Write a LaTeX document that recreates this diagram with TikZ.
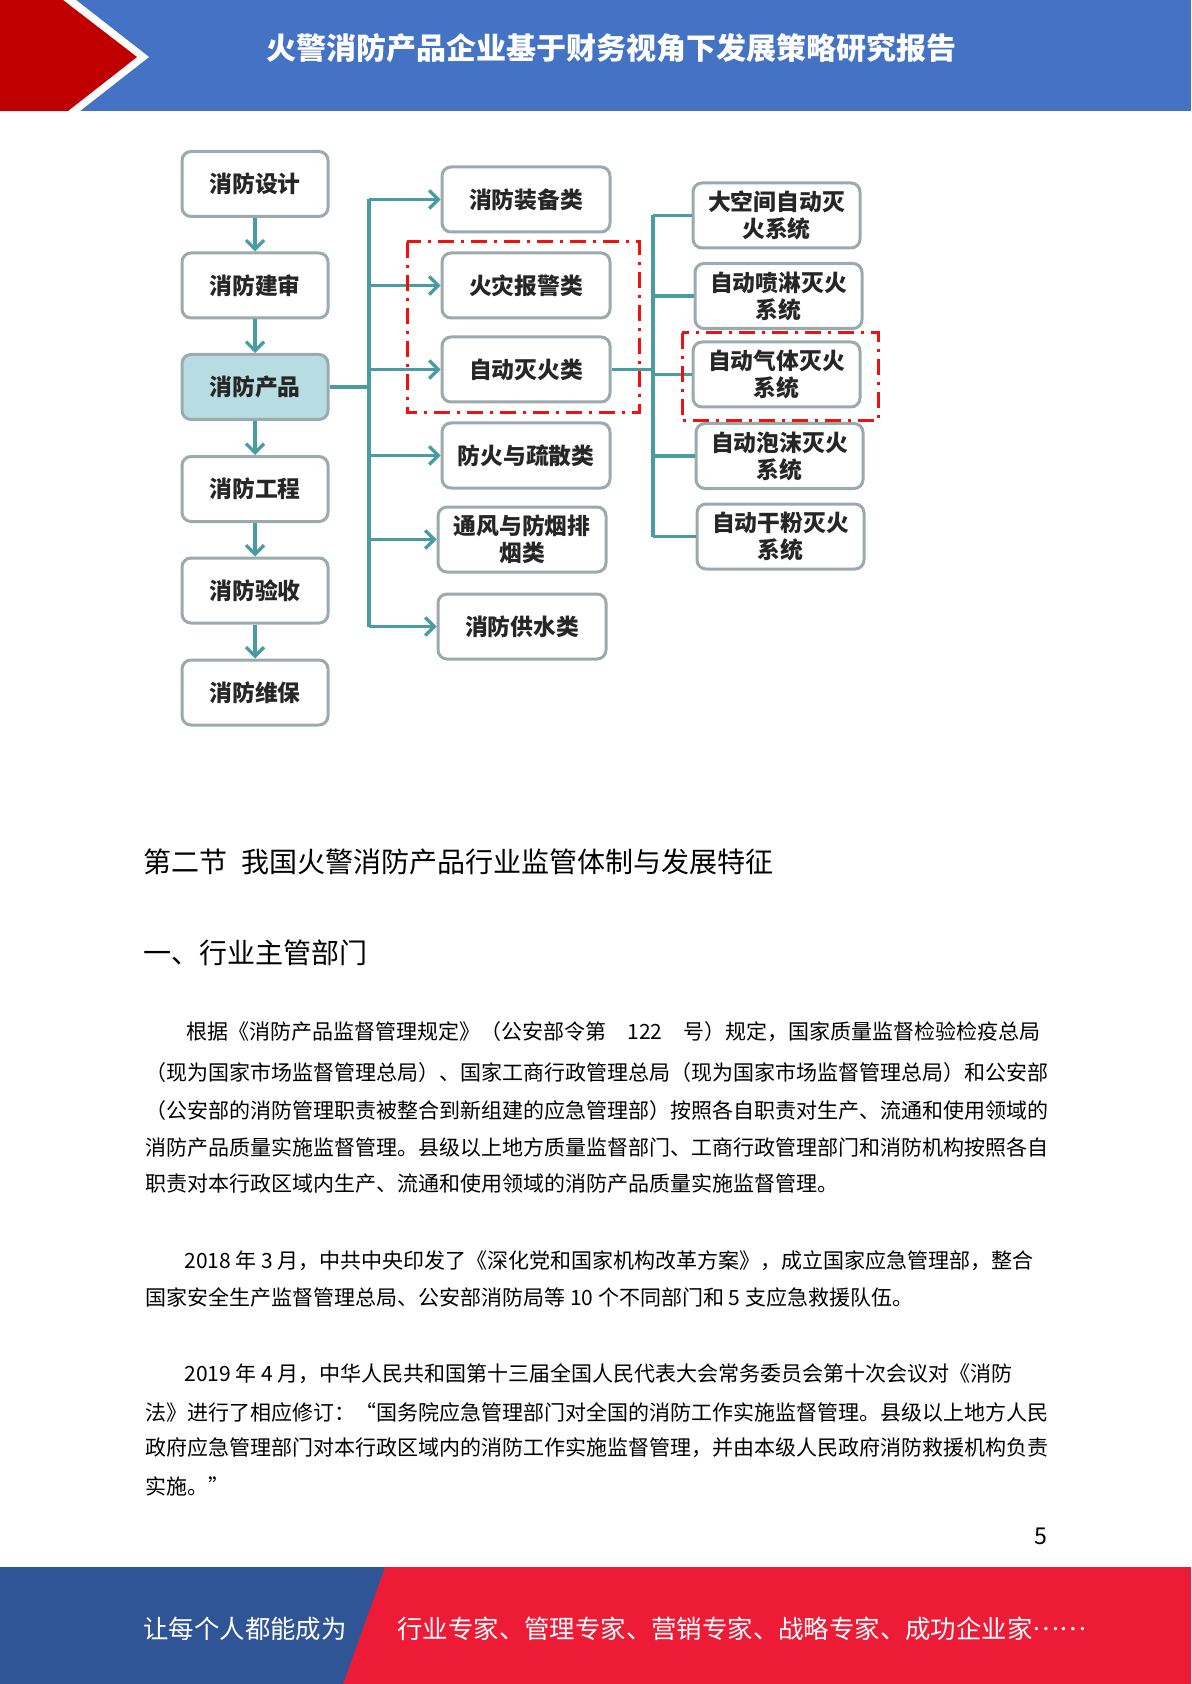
\documentclass[tikz,border=0pt]{standalone}
\usepackage{fontspec}
\setmainfont{Noto Sans CJK SC}
\usetikzlibrary{arrows.meta,positioning,calc}
\definecolor{hdrblue}{HTML}{4472C4}
\definecolor{hdrred}{HTML}{C00000}
\definecolor{ftblue}{HTML}{2F5597}
\definecolor{ftred}{HTML}{EE1B36}
\definecolor{flowteal}{HTML}{4A9CA3}
\definecolor{boxgray}{HTML}{9AAAAD}
\definecolor{prodfill}{HTML}{B7DDE2}
\definecolor{dashred}{HTML}{F01010}

\begin{document}
\begin{tikzpicture}[x=0.5pt, y=-0.5pt,
    box/.style={draw=boxgray, line width=1.5pt, rounded corners=4.5pt, fill=white, minimum width=73pt, minimum height=32.5pt, align=center, inner sep=2pt, font=\fontsize{11.4pt}{13.5pt}\selectfont\bfseries, text=black!85},
    midbox/.style={box, minimum width=84pt},
    sysbox/.style={box, minimum width=83.5pt},
    arr/.style={draw=flowteal, line width=1.6pt, -{Straight Barb[length=4.5pt, width=9pt]}},
    link/.style={draw=flowteal, line width=1.6pt},
    hl/.style={draw=dashred, line width=1.5pt, dash pattern=on 8pt off 3.5pt on 1.5pt off 3.5pt},
    txt/.style={anchor=west, inner sep=0pt, font=\fontsize{10.5pt}{12pt}\selectfont},
    hd/.style={anchor=west, inner sep=0pt, font=\fontsize{14pt}{16pt}\selectfont},
    foot/.style={anchor=west, inner sep=0pt, text=white, font=\fontsize{12.7pt}{14pt}\selectfont}
]
\useasboundingbox (0,0) rectangle (1191,1684);

% header band
\fill[hdrblue] (0,0) rectangle (1191,111);
\fill[white] (0,0) -- (76,0) -- (149,57) -- (80,111) -- (0,111) -- cycle;
\fill[hdrred] (0,0) -- (63,0) -- (137,57) -- (68,111) -- (0,111) -- cycle;
\node[text=white, font=\fontsize{15pt}{18pt}\selectfont\bfseries] (title) at (611,48) {火警消防产品企业基于财务视角下发展策略研究报告};

% left chain
\node[box] (design) at (255,184) {消防设计};
\node[box] (review) at (255,285.5) {消防建审};
\node[box, fill=prodfill] (product) at (255,387) {消防产品};
\node[box] (project) at (255,489) {消防工程};
\node[box] (accept) at (255,590.5) {消防验收};
\node[box] (maint) at (255,692.5) {消防维保};

\draw[arr] (design) -- (review);
\draw[arr] (review) -- (product);
\draw[arr] (product) -- (project);
\draw[arr] (project) -- (accept);
\draw[arr] (accept) -- (maint);

% product classes
\node[midbox] (equip) at (526,199.5) {消防装备类};
\node[midbox] (alarm) at (526,285.5) {火灾报警类};
\node[midbox] (extin) at (526,369.5) {自动灭火类};
\node[midbox] (evac) at (526,455.5) {防火与疏散类};
\node[midbox] (smoke) at (522,539.5) {通风与防烟排\\烟类};
\node[midbox] (water) at (522,626.5) {消防供水类};

\coordinate (trunkA) at (369,387);
\draw[link] (product.east) -- (trunkA);
\draw[link] (trunkA |- equip.west) -- (trunkA |- water.west);
\foreach \n in {equip,alarm,extin,evac,smoke,water}
  \draw[arr] (trunkA |- \n.west) -- (\n.west);

% extinguishing systems
\node[sysbox] (sysA) at (776.5,215.5) {大空间自动灭\\火系统};
\node[sysbox] (sysB) at (778.5,296) {自动喷淋灭火\\系统};
\node[sysbox] (sysC) at (776.5,374.5) {自动气体灭火\\系统};
\node[sysbox] (sysD) at (779.5,456) {自动泡沫灭火\\系统};
\node[sysbox] (sysE) at (780.5,536.5) {自动干粉灭火\\系统};

\coordinate (trunkB) at (653,369.5);
\draw[link] (extin.east) -- (trunkB);
\draw[link] (trunkB |- sysA.west) -- (trunkB |- sysE.west);
\foreach \n in {sysA,sysB,sysC,sysD,sysE}
  \draw[link] (trunkB |- \n.west) -- (\n.west);

% highlighted groups
\draw[hl] (407,242) rectangle (639,413);
\draw[hl] (682,333) rectangle (878,421);

% section text
\node[hd] (sec) at (143,862) {第二节\hspace{0.5em}我国火警消防产品行业监管体制与发展特征};
\node[hd] (sub) at (143,953) {一、行业主管部门};

\node[txt] (pa1) at (186,1032) {根据《消防产品监督管理规定》（公安部令第\hspace{1em}122\hspace{1em}号）规定，国家质量监督检验检疫总局};
\node[txt] (pa2) at (145,1073) {（现为国家市场监督管理总局）、国家工商行政管理总局（现为国家市场监督管理总局）和公安部};
\node[txt] (pa3) at (145,1111) {（公安部的消防管理职责被整合到新组建的应急管理部）按照各自职责对生产、流通和使用领域的};
\node[txt] (pa4) at (145,1147) {消防产品质量实施监督管理。县级以上地方质量监督部门、工商行政管理部门和消防机构按照各自};
\node[txt] (pa5) at (145,1184) {职责对本行政区域内生产、流通和使用领域的消防产品质量实施监督管理。};

\node[txt] (pb1) at (184,1261) {2018 年 3 月，中共中央印发了《深化党和国家机构改革方案》，成立国家应急管理部，整合};
\node[txt] (pb2) at (145,1297) {国家安全生产监督管理总局、公安部消防局等 10 个不同部门和 5 支应急救援队伍。};

\node[txt] (pc1) at (184,1374) {2019 年 4 月，中华人民共和国第十三届全国人民代表大会常务委员会第十次会议对《消防};
\node[txt] (pc2) at (145,1412) {法》进行了相应修订：“国务院应急管理部门对全国的消防工作实施监督管理。县级以上地方人民};
\node[txt] (pc3) at (145,1448) {政府应急管理部门对本行政区域内的消防工作实施监督管理，并由本级人民政府消防救援机构负责};
\node[txt] (pc4) at (145,1486) {实施。”};

\node[font=\fontsize{11.6pt}{14pt}\selectfont] (pgno) at (1041,1536) {5};

% footer band
\fill[ftred] (0,1567) rectangle (1191,1684);
\fill[ftblue] (0,1567) -- (385,1567) -- (343,1684) -- (0,1684) -- cycle;
\node[foot] (mottoA) at (143,1629) {让每个人都能成为};
\node[foot] (mottoB) at (397,1629) {行业专家、管理专家、营销专家、战略专家、成功企业家\raisebox{0.32em}{……}};
\end{tikzpicture}
\end{document}
